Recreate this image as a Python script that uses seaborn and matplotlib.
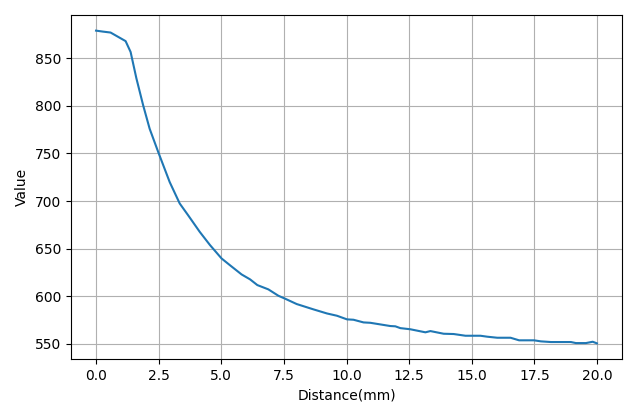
import matplotlib
matplotlib.use("Agg")
import matplotlib.pyplot as plt
import seaborn as sns
import pandas as pd

distance = [0.0, 0.27, 0.58, 1.18, 1.38, 1.61, 1.88, 2.14, 2.48, 2.94, 3.34, 3.68,
            4.14, 4.55, 5.01, 5.34, 5.81, 6.15, 6.44, 6.88, 7.28, 7.55, 8.01, 8.68,
            9.22, 9.62, 10.02, 10.28, 10.68, 10.95, 11.35, 11.75, 11.95, 12.15, 12.55,
            13.15, 13.35, 13.88, 14.28, 14.75, 15.35, 15.62, 16.02, 16.55, 16.89,
            17.49, 17.76, 18.16, 18.96, 19.16, 19.56, 19.83, 20.0]
value = [879.0, 878.0, 877.0, 868.0, 856.6, 829.0, 800.7, 776.0, 751.7, 720.0, 697.5, 685.0,
         667.7, 653.8, 639.8, 632.8, 623.0, 617.8, 611.8, 607.3, 600.6, 597.5, 591.9, 586.3,
         582.0, 579.6, 575.8, 575.4, 572.6, 572.2, 570.5, 568.8, 568.5, 566.6, 565.4,
         562.2, 563.5, 560.7, 560.4, 558.6, 558.6, 557.6, 556.5, 556.5, 553.8,
         553.8, 552.7, 552.0, 552.0, 550.9, 550.9, 552.3, 550.6]

df = pd.DataFrame({"Distance(mm)": distance, "Value": value})

fig, ax = plt.subplots(figsize=(6.4, 4.09), dpi=100)
sns.lineplot(data=df, x="Distance(mm)", y="Value", ax=ax, color="#1f77b4", linewidth=1.5)
ax.set_xticks([0, 2.5, 5, 7.5, 10, 12.5, 15, 17.5, 20])
ax.grid(True)
fig.subplots_adjust(left=71/640, right=622/640, top=1-15/409, bottom=1-359/409)
fig.savefig("out.png", dpi=100)
